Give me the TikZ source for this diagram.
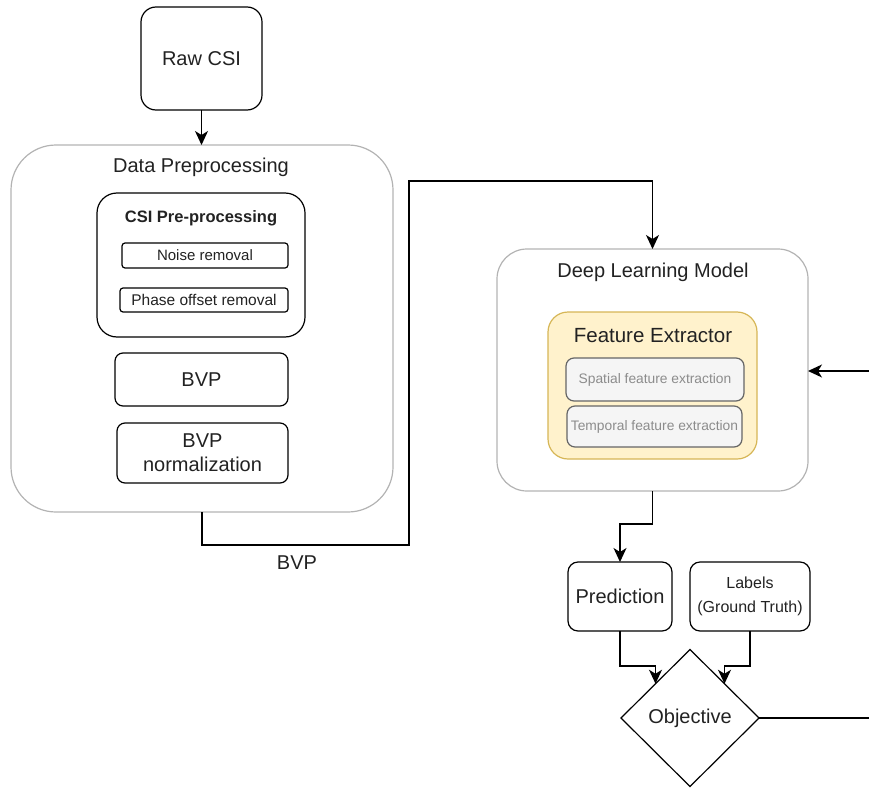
\documentclass[tikz,border=0pt]{standalone}
\usepackage{fontspec}
\setmainfont{Liberation Sans}
\usetikzlibrary{arrows.meta,shapes.geometric}
\definecolor{outerc}{HTML}{B3B3B3}
\definecolor{txt}{HTML}{222222}
\definecolor{feFill}{HTML}{FFF2CC}
\definecolor{feLine}{HTML}{D6B656}
\definecolor{subFill}{HTML}{F5F5F5}
\definecolor{subLine}{HTML}{666666}
\definecolor{subTxt}{HTML}{8C8C8C}
\tikzset{
  base/.style={draw, inner sep=0pt, outer sep=0pt, align=center, text=txt, line width=1.2pt},
  outerbox/.style={base, draw=outerc},
  innerbox/.style={base, draw=black},
  fsz/.style={font=\fontsize{#1}{24}\selectfont},
  arr/.style={draw=black, line width=1.3pt, -{Stealth[length=14pt,width=13pt,inset=4pt]}},
  ln/.style={draw=black, line width=1.3pt},
  lbl/.style={text=txt, inner sep=0pt}
}
\begin{document}
\begin{tikzpicture}[x=1pt,y=-1pt]
\useasboundingbox (0,0) rectangle (869,789);
% Raw CSI
\node[innerbox, rounded corners=15pt, minimum width=121pt, minimum height=103pt, fsz=20] (raw) at (201.5,58.5) {Raw CSI};
% Data preprocessing
\node[outerbox, rounded corners=45pt, minimum width=382pt, minimum height=367pt] (dp) at (202,328.5) {};
\node[lbl, fsz=20] (dpt) at (201,167) {Data Preprocessing};
\node[innerbox, rounded corners=20pt, minimum width=208pt, minimum height=144pt] (csi) at (201,265) {};
\node[lbl] (csit) at (201,218) {\fontsize{16.5}{19}\selectfont\bfseries CSI Pre-processing};
\node[innerbox, rounded corners=3pt, minimum width=166pt, minimum height=25pt, fsz=15] (noise) at (205,255.5) {Noise removal};
\node[innerbox, rounded corners=3pt, minimum width=168pt, minimum height=24pt, fsz=15.5] (phase) at (204,300) {Phase offset removal};
\node[innerbox, rounded corners=8pt, minimum width=173pt, minimum height=53pt, fsz=20] (bvp) at (201.5,379.5) {BVP};
\node[innerbox, rounded corners=8pt, minimum width=171pt, minimum height=60pt, fsz=20] (bvpn) at (202.5,453) {BVP\\normalization};
% Deep learning model
\node[outerbox, rounded corners=30pt, minimum width=311pt, minimum height=242pt] (dl) at (652.5,370) {};
\node[lbl, fsz=20] (dlt) at (653,272) {Deep Learning Model};
\node[base, draw=feLine, fill=feFill, rounded corners=20pt, minimum width=209pt, minimum height=147pt] (fe) at (652.5,385.5) {};
\node[lbl, fsz=20.5] (fet) at (653,336) {Feature Extractor};
\node[base, draw=subLine, fill=subFill, text=subTxt, rounded corners=8pt, minimum width=178pt, minimum height=43pt, fsz=13.8] (sp) at (655,379.5) {Spatial feature extraction};
\node[base, draw=subLine, fill=subFill, text=subTxt, rounded corners=8pt, minimum width=175pt, minimum height=41pt, fsz=13.8] (tp) at (654.5,426.5) {Temporal feature extraction};
% Prediction, labels, objective
\node[innerbox, rounded corners=10pt, minimum width=104pt, minimum height=69pt, fsz=20] (pred) at (620,596.5) {Prediction};
\node[innerbox, rounded corners=10pt, minimum width=120pt, minimum height=69pt, fsz=16] (lab) at (750,596.5) {Labels\\(Ground Truth)};
\node[innerbox, diamond, aspect=1, minimum width=138pt, minimum height=137pt, fsz=20] (obj) at (690,718) {Objective};
% connectors
\draw[arr] (raw.south) -- (raw.south |- dp.north);
\coordinate (b1) at (409,545);
\coordinate (b2) at (409,181);
\draw[arr] (dp.south) |- (b1) -- (b2) -| (dl.north);
\node[lbl, fsz=20] (bvplbl) at (297,563) {BVP};
\coordinate (c3) at (636,524);
\draw[arr] (dl.south) |- (c3) -| (pred.north);
\draw[arr] (pred.south) -- ++(0,35) -| (obj.north west);
\draw[arr] (lab.south) -- ++(0,35) -| (obj.north east);
\coordinate (r1) at (869,718);
\coordinate (r2) at (869,371);
\draw[ln] (obj.east) -- (r1);
\draw[arr] (r2) -- (dl.east |- r2);
\end{tikzpicture}
\end{document}
